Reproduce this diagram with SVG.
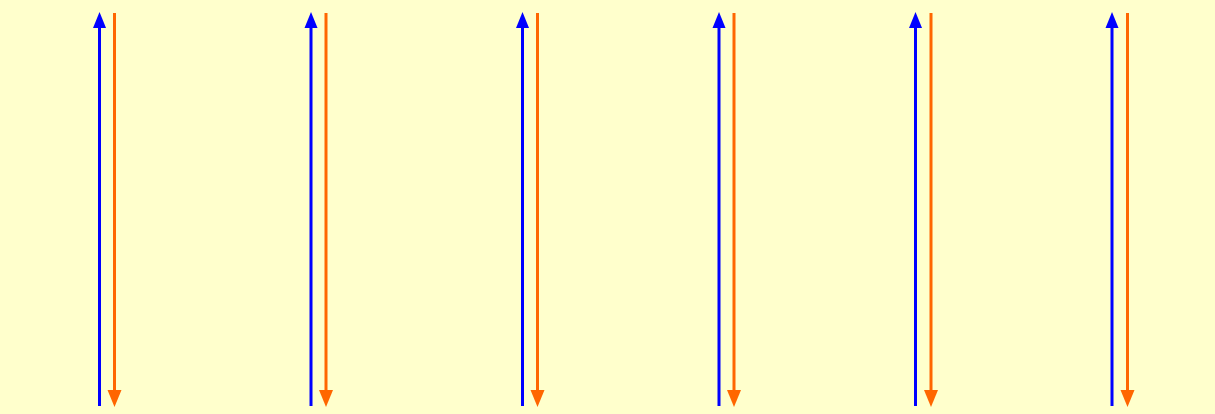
<svg xmlns="http://www.w3.org/2000/svg" width="1215" height="414" viewBox="0 0 1215 414">
<style>
.up{stroke:#0000ff;stroke-width:3;fill:none}
.dn{stroke:#ff6600;stroke-width:3;fill:none}
.hu{fill:#0000ff}
.hd{fill:#ff6600}
</style>
<rect width="1215" height="414" fill="#ffffcc"/>
<g id="connectors">
<g id="c1">
<line class="up" x1="99.5" y1="406" x2="99.5" y2="26"/><path class="hu" d="M99.5,12 L106,28 L93,28 Z"/>
<line class="dn" x1="114.5" y1="13" x2="114.5" y2="392"/><path class="hd" d="M114.5,407 L107.5,390 L121.5,390 Z"/>
</g>
<g id="c2">
<line class="up" x1="311" y1="406" x2="311" y2="26"/><path class="hu" d="M311,12 L317.5,28 L304.5,28 Z"/>
<line class="dn" x1="326" y1="13" x2="326" y2="392"/><path class="hd" d="M326,407 L319,390 L333,390 Z"/>
</g>
<g id="c3">
<line class="up" x1="522.5" y1="406" x2="522.5" y2="26"/><path class="hu" d="M522.5,12 L529,28 L516,28 Z"/>
<line class="dn" x1="537.5" y1="13" x2="537.5" y2="392"/><path class="hd" d="M537.5,407 L530.5,390 L544.5,390 Z"/>
</g>
<g id="c4">
<line class="up" x1="719" y1="406" x2="719" y2="26"/><path class="hu" d="M719,12 L725.5,28 L712.5,28 Z"/>
<line class="dn" x1="734" y1="13" x2="734" y2="392"/><path class="hd" d="M734,407 L727,390 L741,390 Z"/>
</g>
<g id="c5">
<line class="up" x1="915.5" y1="406" x2="915.5" y2="26"/><path class="hu" d="M915.5,12 L922,28 L909,28 Z"/>
<line class="dn" x1="931" y1="13" x2="931" y2="392"/><path class="hd" d="M931,407 L924,390 L938,390 Z"/>
</g>
<g id="c6">
<line class="up" x1="1112" y1="406" x2="1112" y2="26"/><path class="hu" d="M1112,12 L1118.5,28 L1105.5,28 Z"/>
<line class="dn" x1="1127.5" y1="13" x2="1127.5" y2="392"/><path class="hd" d="M1127.5,407 L1120.5,390 L1134.5,390 Z"/>
</g>
</g>
</svg>
